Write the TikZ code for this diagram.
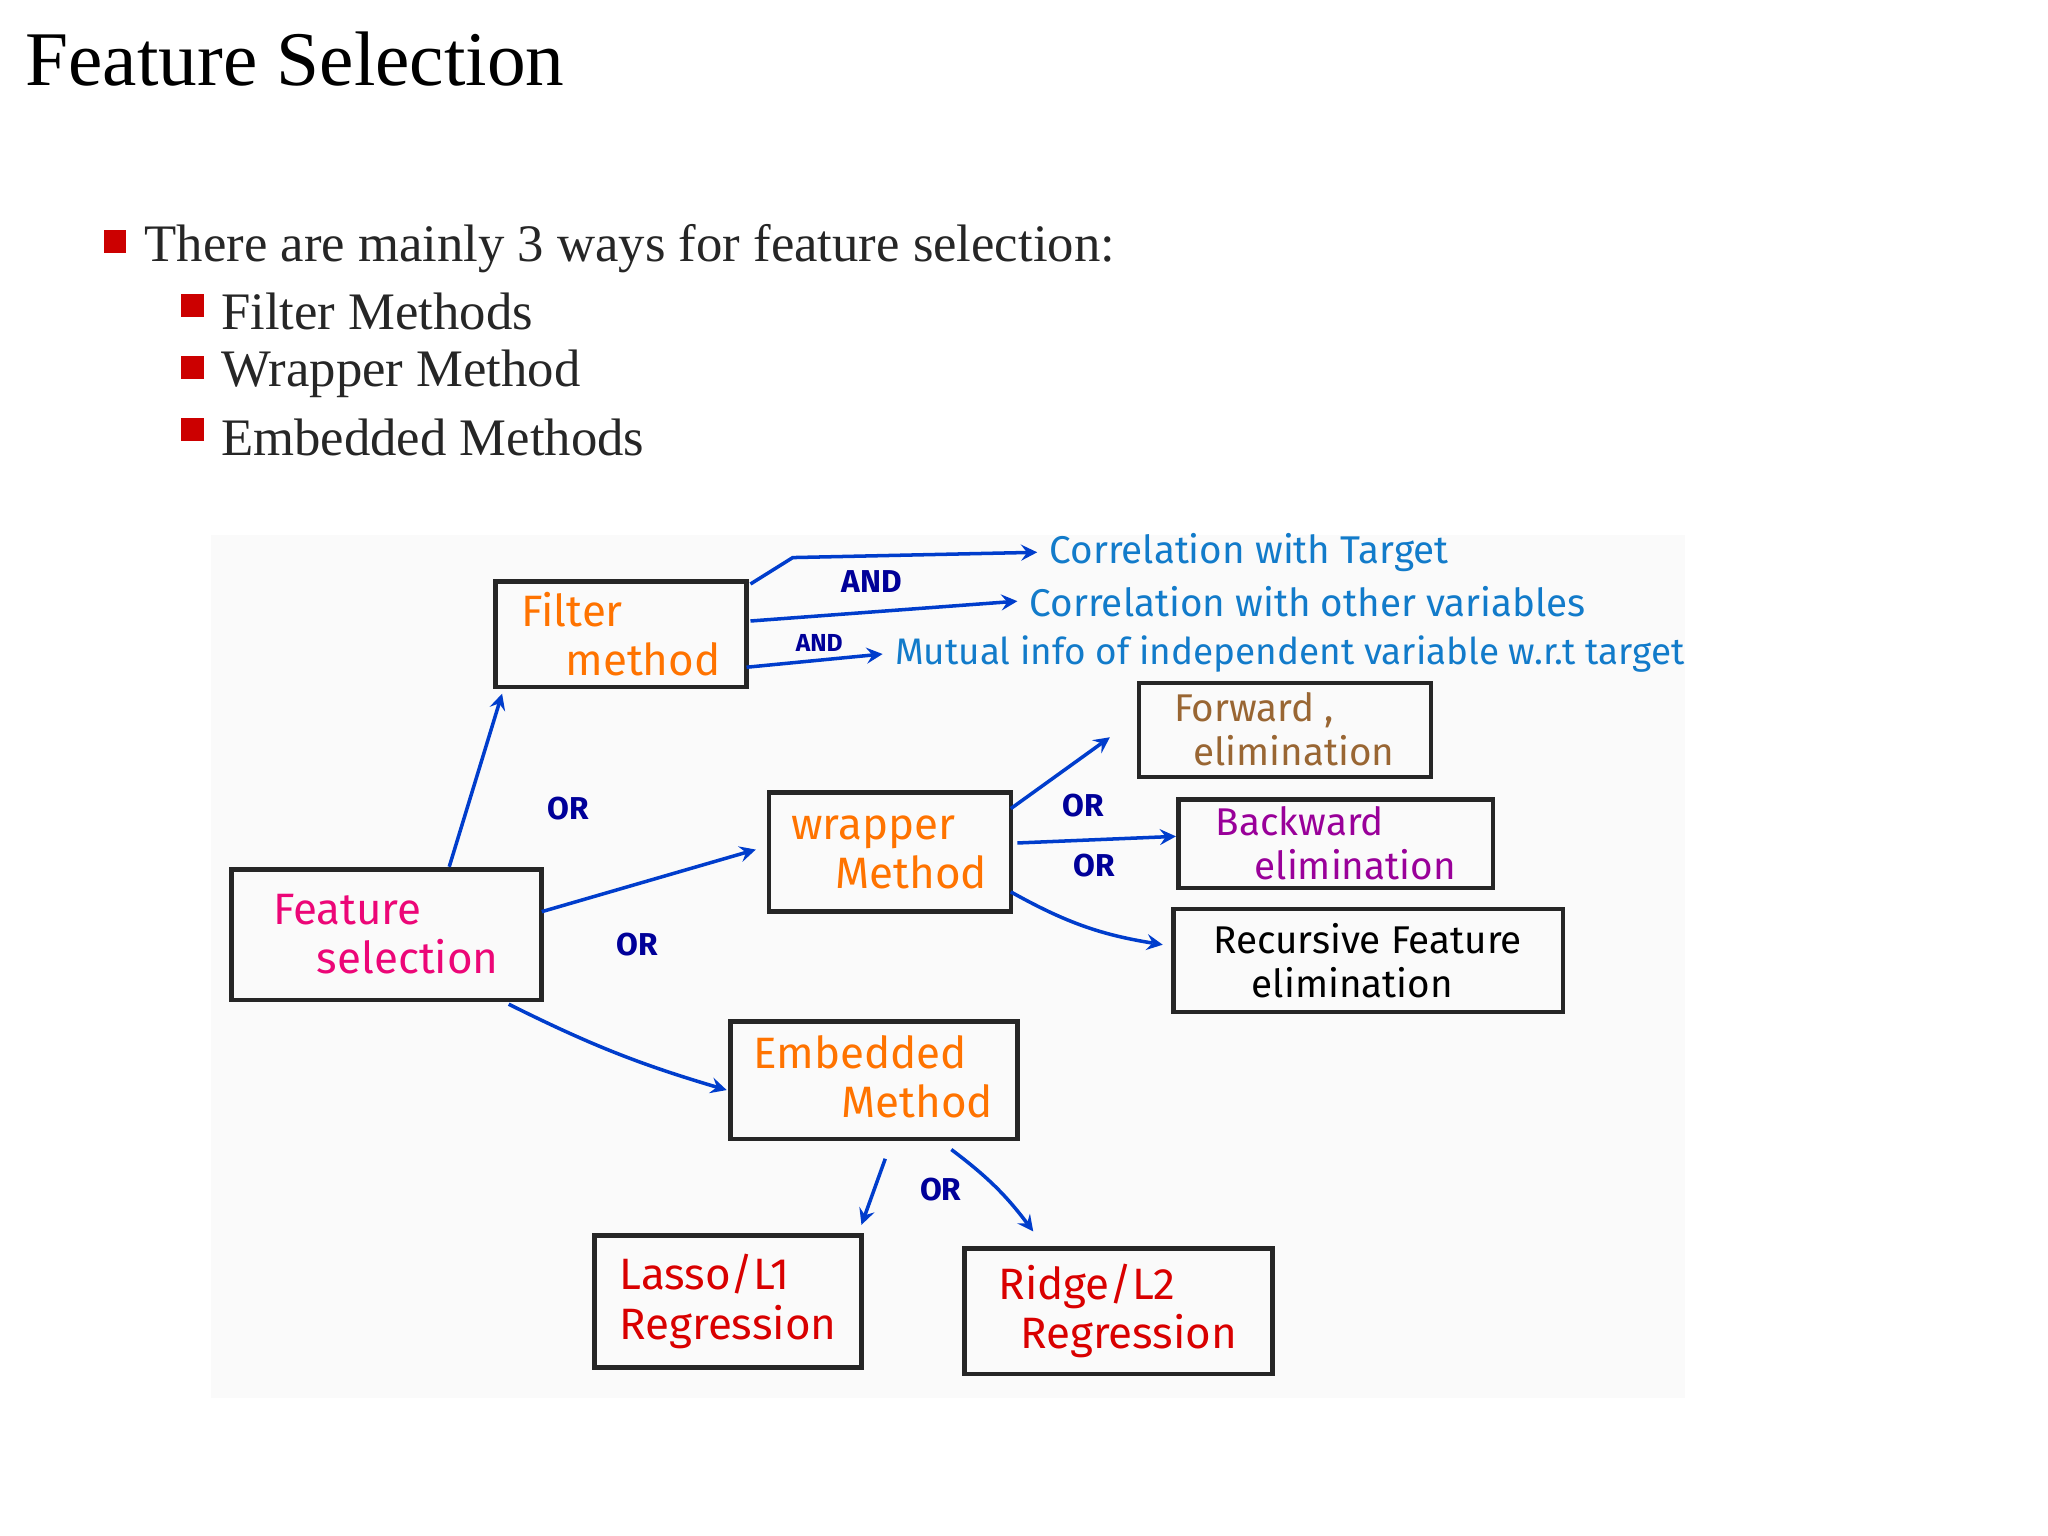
\documentclass[tikz,border=0pt]{standalone}
\usepackage{fontspec}
\setmainfont{Liberation Serif}
\newfontfamily\hand{Fira Sans}
\begin{document}
\begin{tikzpicture}[x=0.013213cm,y=-0.013213cm,
  hw/.style={font=\hand\fontsize{12.5}{14}\selectfont,align=left},
  ar/.style={draw=blue!70!cyan!80!black,line width=1pt,->,>=stealth},
  lb/.style={font=\hand\bfseries\fontsize{9}{10}\selectfont,text=blue!60!black},
  bl/.style={fill=red!80!black,minimum size=6.5pt,inner sep=0pt},
  bt/.style={anchor=west,font=\fontsize{15}{18}\selectfont,text=black!85}]
\useasboundingbox (0,0) rectangle (1550,1162);
\fill[black!2] (160,405) rectangle (1275,1058);
\node[anchor=west,font=\fontsize{22}{26}\selectfont] (title) at (10,45) {Feature Selection};
\node[bl] (b0) at (87,183) {};
\node[bt] (t0) at (100,188) {There are mainly 3 ways for feature selection:};
\node[bl] (b1) at (146,231) {};
\node[bt] (t1) at (158,236) {Filter Methods};
\node[bl] (b2) at (146,278) {};
\node[bt] (t2) at (158,283) {Wrapper Method};
\node[bl] (b3) at (146,325) {};
\node[bt] (t3) at (158,331) {Embedded Methods};
% boxes
\draw[line width=1.3pt,black!85] (375,440) rectangle (565,520);
\node[hw,text=orange!90!red] (filter) at (470,480) {Filter\\\quad method};
\draw[line width=1.3pt,black!85] (175,658) rectangle (410,757);
\node[hw,text=magenta!80!red] (fs) at (292,707) {Feature\\\quad selection};
\draw[line width=1.3pt,black!85] (582,600) rectangle (765,690);
\node[hw,text=orange!90!red] (wr) at (673,645) {wrapper\\\quad Method};
\draw[line width=1.3pt,black!85] (553,773) rectangle (770,862);
\node[hw,text=orange!90!red] (em) at (661,815) {Embedded\\\qquad Method};
\draw[line width=1.3pt,black!85] (862,517) rectangle (1083,588);
\node[hw,text=brown!80!black,font=\hand\fontsize{11}{12.5}\selectfont] (fw) at (972,552) {Forward ,\\\enspace elimination};
\draw[line width=1.3pt,black!85] (892,605) rectangle (1130,672);
\node[hw,text=violet!80!magenta,font=\hand\fontsize{11}{12.5}\selectfont] (bw) at (1011,638) {Backward\\\quad elimination};
\draw[line width=1.3pt,black!85] (888,688) rectangle (1183,766);
\node[hw,text=black,font=\hand\fontsize{11}{12.5}\selectfont] (rfe) at (1035,727) {Recursive Feature\\\quad elimination};
\draw[line width=1.3pt,black!85] (450,935) rectangle (652,1035);
\node[hw,text=red!85!black] (la) at (551,985) {Lasso/L1\\Regression};
\draw[line width=1.3pt,black!85] (730,945) rectangle (963,1040);
\node[hw,text=red!85!black] (ri) at (846,992) {Ridge/L2\\\enspace Regression};
% texts
\node[anchor=west,hw,text=cyan!60!blue,font=\hand\fontsize{11}{12}\selectfont] (c1) at (785,418) {Correlation with Target};
\node[anchor=west,hw,text=cyan!60!blue,font=\hand\fontsize{11}{12}\selectfont] (c2) at (770,455) {Correlation with other variables};
\node[anchor=west,hw,text=cyan!60!blue,font=\hand\fontsize{10.5}{12}\selectfont] (c3) at (668,495) {Mutual info of independent variable w.r.t target};
% arrows
\coordinate (f1) at (568,442); \coordinate (f1b) at (600,422);
\draw[ar] (f1) -- (f1b) -- (c1.west);
\coordinate (f2) at (568,470); \draw[ar] (f2) -- (c2.west);
\coordinate (f3) at (565,505); \draw[ar] (f3) -- (c3.west);
\node[lb] (and1) at (660,440) {AND};
\node[lb,font=\hand\bfseries\fontsize{7}{8}\selectfont] (and2) at (620,487) {AND};
\coordinate (fs1) at (340,656); \coordinate (fi1) at (380,525);
\draw[ar] (fs1) -- (fi1);
\coordinate (fs2) at (410,690); \coordinate (wr1) at (572,643);
\draw[ar] (fs2) -- (wr1);
\coordinate (fs3) at (385,760); \coordinate (em1) at (550,825);
\draw[ar] (fs3) to[bend right=5] (em1);
\coordinate (w1) at (765,612); \coordinate (w1e) at (840,558);
\draw[ar] (w1) -- (w1e);
\coordinate (w2) at (770,638); \coordinate (w2e) at (890,633);
\draw[ar] (w2) -- (w2e);
\coordinate (w3) at (765,675); \coordinate (w3e) at (880,715);
\draw[ar] (w3) to[bend right=10] (w3e);
\coordinate (e1) at (670,877); \coordinate (e1e) at (652,927);
\draw[ar] (e1) -- (e1e);
\coordinate (e2) at (720,870); \coordinate (e2e) at (782,932);
\draw[ar] (e2) to[bend left=8] (e2e);
\node[lb] (or1) at (430,612) {OR};
\node[lb] (or2) at (482,715) {OR};
\node[lb] (or3) at (820,610) {OR};
\node[lb] (or4) at (828,655) {OR};
\node[lb] (or5) at (712,900) {OR};
\end{tikzpicture}
\end{document}
